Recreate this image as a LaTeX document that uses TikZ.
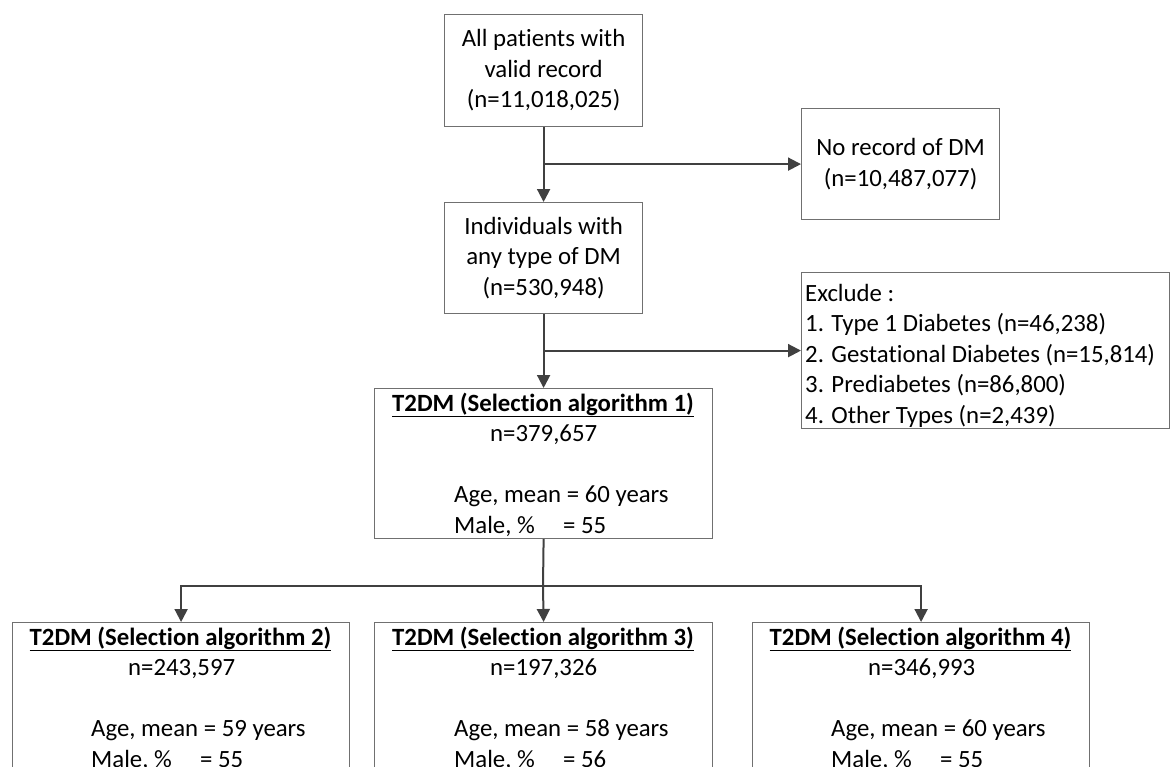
\documentclass[tikz,border=0pt]{standalone}
\usepackage{fontspec}
\setmainfont{Carlito}[Ligatures=CommonOff]
\usetikzlibrary{arrows.meta}
\definecolor{boxgray}{HTML}{707070}
\definecolor{arrowgray}{HTML}{404040}
\tikzset{
  flowbox/.style={draw=boxgray, line width=1.2pt, inner sep=0pt, anchor=north west, align=center},
  plainline/.style={draw=arrowgray, line width=2pt},
  arr/.style={plainline, -{Triangle[length=13pt,width=13pt]}},
  txt/.style={inner sep=0pt},
}
\newcommand{\bodyfont}{\fontsize{24.8}{30.5}\selectfont}
\begin{document}
\begin{tikzpicture}[x=1pt,y=-1pt,font=\bodyfont]
\useasboundingbox (0,0) rectangle (1170,766);
\clip (0,0) rectangle (1170,766);

% top boxes
\node[flowbox, minimum width=198pt, minimum height=112pt] (A) at (444,14)
  {All patients with\\valid record\\(n=11,018,025)};
\node[flowbox, minimum width=198pt, minimum height=111pt] (B) at (801,108)
  {No record of DM\\(n=10,487,077)};
\node[flowbox, minimum width=198pt, minimum height=111pt] (C) at (444,202)
  {Individuals with\\any type of DM\\(n=530,948)};
\node[flowbox, minimum width=367.5pt, minimum height=156pt] (excl) at (801,272) {};
\node[txt, anchor=north west, align=left] (excltext) at (805,279.6)
  {\strut Exclude :\\1. Type 1 Diabetes (n=46,238)\\2. Gestational Diabetes (n=15,814)\\3. Prediabetes (n=86,800)\\4. Other Types (n=2,439)};

% selection algorithm boxes
\node[flowbox, minimum width=338pt, minimum height=150pt] (D) at (374,388) {};
\node[txt, anchor=base] (Dt) at (543,411) {\bfseries\underline{T2DM (Selection algorithm 1)}};
\node[txt, anchor=base west] (Dn) at (490,441.5) {n=379,657};
\node[txt, anchor=base west] (Da) at (454,502.5) {Age, mean = 60 years};
\node[txt, anchor=base west] (Dm) at (454,533) {\makebox[109pt][l]{Male, \%}= 55};

\node[flowbox, minimum width=337pt, minimum height=170pt] (E1) at (12,622) {};
\node[txt, anchor=base] (E1t) at (180.5,645) {\bfseries\underline{T2DM (Selection algorithm 2)}};
\node[txt, anchor=base west] (E1n) at (128,675.5) {n=243,597};
\node[txt, anchor=base west] (E1a) at (91,736.5) {Age, mean = 59 years};
\node[txt, anchor=base west] (E1m) at (91,767) {\makebox[109pt][l]{Male, \%}= 55};

\node[flowbox, minimum width=338pt, minimum height=170pt] (E2) at (374,622) {};
\node[txt, anchor=base] (E2t) at (543,645) {\bfseries\underline{T2DM (Selection algorithm 3)}};
\node[txt, anchor=base west] (E2n) at (490,675.5) {n=197,326};
\node[txt, anchor=base west] (E2a) at (454,736.5) {Age, mean = 58 years};
\node[txt, anchor=base west] (E2m) at (454,767) {\makebox[109pt][l]{Male, \%}= 56};

\node[flowbox, minimum width=337pt, minimum height=170pt] (E3) at (752,622) {};
\node[txt, anchor=base] (E3t) at (920.5,645) {\bfseries\underline{T2DM (Selection algorithm 4)}};
\node[txt, anchor=base west] (E3n) at (868,675.5) {n=346,993};
\node[txt, anchor=base west] (E3a) at (831,736.5) {Age, mean = 60 years};
\node[txt, anchor=base west] (E3m) at (831,767) {\makebox[109pt][l]{Male, \%}= 55};

% connectors
\draw[arr] (A.south) -- (C.north);
\draw[arr] (A.south |- B.west) -- (B.west);
\draw[arr] (C.south) -- (D.north);
\draw[arr] (C.south |- excl.west) -- (excl.west);
\coordinate (split) at (543,586);
\draw[plainline] (D.south) -- (split);
\draw[arr] (split) -| (E1.north);
\draw[arr] (split) -- (E2.north);
\draw[arr] (split) -| (E3.north);
\end{tikzpicture}
\end{document}
